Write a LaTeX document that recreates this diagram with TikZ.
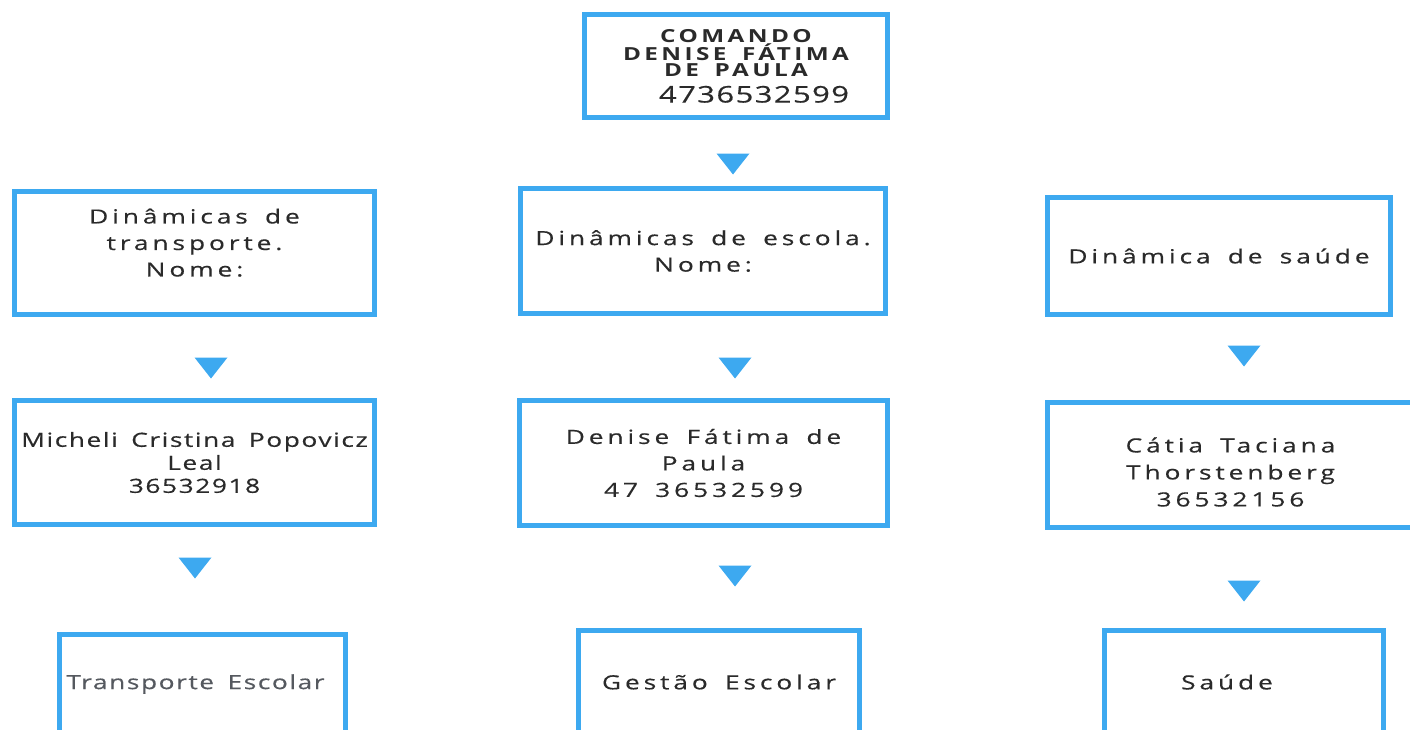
\documentclass[tikz,border=0pt]{standalone}
\usepackage{fontspec}
\setmainfont{Open Sans}[FakeStretch=1.35, FakeBold=0.4, LetterSpace=20, WordSpace=1.6]
\newfontfamily\tightfont{Open Sans}[FakeStretch=1.35, FakeBold=0.4, LetterSpace=8, WordSpace=1.6]
\newfontfamily\capsfont{Open Sans}[FakeStretch=1.35, LetterSpace=19, WordSpace=1.6]
\newfontfamily\numfont{Open Sans}[FakeStretch=1.35, FakeBold=0.4, LetterSpace=6]
\usetikzlibrary{positioning}
\definecolor{skyline}{HTML}{3DA9F0}
\definecolor{inkgray}{HTML}{2A2A2A}
\definecolor{softgray}{HTML}{55595F}
\tikzset{%
  % boxes and markers
  box/.style={draw=skyline, line width=4.5pt, fill=white, align=center,
    inner sep=0pt, outer sep=0pt, text=inkgray,
    font=\fontsize{19.5}{26.5}\selectfont},
  tri/.style={fill=skyline},
}

\begin{document}
\begin{tikzpicture}[x=1pt,y=-1pt]
  \useasboundingbox (0,0) rectangle (1410,729);
  % command
  \node[box, minimum width=303, minimum height=103,
        font=\capsfont\bfseries\fontsize{18}{16.5}\selectfont]
    (cmd) at (736,66)
    {COMANDO\\DENISE FÁTIMA\\DE PAULA\\[8pt]%
     \hspace*{36pt}{\numfont\mdseries\fontsize{23}{23}\selectfont 4736532599}};
  % dynamics row
  \node[box, minimum width=360, minimum height=123, text depth=21pt] (transp) at (194.5,253)
    {Dinâmicas de\\transporte.\\Nome:};
  \node[box, minimum width=365, minimum height=125] (escola) at (703,251)
    {Dinâmicas de escola.\\Nome:};
  \node[box, minimum width=343, minimum height=117] (saude) at (1219,256)
    {Dinâmica de saúde};
  % people row
  \node[box, minimum width=360, minimum height=124,
        font=\tightfont\fontsize{19.5}{23}\selectfont] (micheli) at (194.5,462.5)
    {Micheli Cristina Popovicz\\Leal\\36532918};
  \node[box, minimum width=368, minimum height=125] (denise) at (703.5,463)
    {Denise Fátima de\\Paula\\47 36532599};
  \node[box, minimum width=366, minimum height=125,
        font=\fontsize{19.5}{27}\selectfont] (catia) at (1230.5,465)
    {\rule{0pt}{29pt}Cátia Taciana\\Thorstenberg\\36532156};
  % sectors row
  \node[box, minimum width=286, minimum height=99, text=softgray,
        font=\tightfont\fontsize{19.5}{23}\selectfont] (transpEsc) at (202.5,684)
    {Transporte Escolar\hspace*{14pt}};
  \node[box, minimum width=281, minimum height=103] (gestao) at (719,682)
    {Gestão Escolar};
  \node[box, minimum width=279, minimum height=103] (saudeEnd) at (1244,682)
    {Saúde\hspace*{34pt}};
  % markers between boxes
  \foreach \x/\y in {733/164, 211/368, 735/368, 1244/356, 195/568, 735/576, 1244/591}
    \fill[tri] (\x-16.5,\y-10.5) -- (\x+16.5,\y-10.5) -- (\x,\y+10.5) -- cycle;
\end{tikzpicture}
\end{document}
